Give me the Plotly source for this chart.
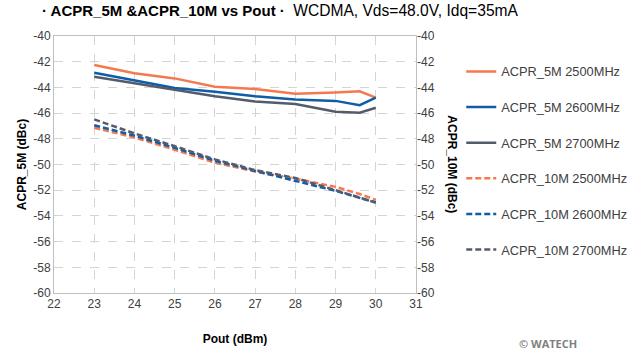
import plotly.graph_objects as go

pout = [23, 24, 25, 26, 27, 28, 29, 29.6, 30]

acpr5_2500 = [-42.26, -42.9, -43.3, -43.95, -44.13, -44.5, -44.4, -44.3, -44.8]
acpr5_2600 = [-42.86, -43.43, -44.05, -44.34, -44.68, -44.95, -45.05, -45.38, -44.8]
acpr5_2700 = [-43.17, -43.69, -44.2, -44.68, -45.1, -45.3, -45.9, -45.97, -45.58]

acpr10_2500 = [-47.14, -47.9, -48.85, -49.85, -50.55, -51.1, -51.74, -52.3, -52.75]
acpr10_2600 = [-46.94, -47.75, -48.7, -49.7, -50.5, -51.27, -52.05, -52.6, -52.96]
acpr10_2700 = [-46.49, -47.58, -48.57, -49.6, -50.44, -51.05, -52.0, -52.55, -52.96]

y_ticks = [-60, -58, -56, -54, -52, -50, -48, -46, -44, -42, -40]
y_ticktext = ["-60", "-58", "-56", "-54", "-52", "-50", "-48", "-46", "-44", "-42", "-40"]

names5 = ["ACPR_5M 2500MHz", "ACPR_5M 2600MHz", "ACPR_5M 2700MHz"]
names10 = ["ACPR_10M 2500MHz", "ACPR_10M 2600MHz", "ACPR_10M 2700MHz"]
colors = ["#F5794F", "#0E5DA6", "#535B6D"]

fig = go.Figure()
for i, (n, ys) in enumerate(zip(names5, [acpr5_2500, acpr5_2600, acpr5_2700])):
    fig.add_trace(go.Scatter(x=pout, y=ys, name=n, mode="lines", legendgroup=n,
                             line=dict(color=colors[i], width=2.5)))
for i, (n, ys) in enumerate(zip(names10, [acpr10_2500, acpr10_2600, acpr10_2700])):
    fig.add_trace(go.Scatter(x=pout, y=ys, name=n, mode="lines", yaxis="y2", legendgroup=n,
                             line=dict(color=colors[i], width=2.5, dash="6px,3px")))

tickfont = dict(family="Liberation Sans, Arial", size=12, color="#404040")
grid = "#D4D4D4"
fig.update_layout(
    width=641, height=352,
    margin=dict(l=54, r=225, t=36, b=59, autoexpand=False),
    paper_bgcolor="white", plot_bgcolor="white",
    font=dict(family="Liberation Sans, Arial", size=12, color="#404040"),
    xaxis=dict(range=[22, 31], dtick=1, tick0=22, showgrid=True, gridcolor=grid, griddash="dash",
               gridwidth=1, showline=True, linecolor="#BFBFBF", linewidth=1, mirror=True,
               zeroline=False, tickfont=tickfont, ticks="",
               title=dict(text="<b>Pout (dBm)</b>", font=dict(size=12, color="#000000"), standoff=24)),
    yaxis=dict(range=[-60, -40], tickvals=y_ticks, ticktext=y_ticktext, showgrid=True,
               gridcolor=grid, griddash="dash",
               showline=True, linecolor="#BFBFBF", linewidth=1, mirror=True, zeroline=False,
               tickfont=tickfont, ticks="",
               title=dict(text="<b>ACPR_5M (dBc)</b>", font=dict(size=12, color="#000000"), standoff=4)),
    yaxis2=dict(range=[-60, -40], tickvals=y_ticks, ticktext=y_ticktext, overlaying="y",
                side="right", showgrid=False,
                zeroline=False, tickfont=tickfont, ticks="", showline=False),
    legend=dict(x=1.125, y=0.92, xanchor="left", yanchor="top", tracegroupgap=16,
                font=dict(family="Liberation Sans, Arial", size=12.8, color="#404040"),
                bgcolor="rgba(0,0,0,0)", itemwidth=30),
    showlegend=True,
    annotations=[
        dict(text="<b>· ACPR_5M &ACPR_10M vs Pout ·</b>  <span style='font-size:15.6px'>WCDMA, Vds=48.0V, Idq=35mA</span>",
             xref="paper", yref="paper", x=-0.04, y=1.0, yshift=26, xanchor="left", yanchor="middle",
             showarrow=False, font=dict(family="Liberation Sans, Arial", size=15, color="#000000")),
        dict(text="<b>ACPR_10M (dBc)</b>", textangle=90, xref="paper", yref="paper",
             x=1.1, y=0.5, xanchor="center", yanchor="middle", showarrow=False,
             font=dict(family="Liberation Sans, Arial", size=12, color="#000000")),
        dict(text="<b>© WATECH</b>", xref="paper", yref="paper", x=1.28, y=0, yshift=-50,
             xanchor="left", yanchor="middle", showarrow=False,
             font=dict(family="Open Sans", size=11, color="#7F7F7F")),
    ],
)

fig.write_html("out.html")
